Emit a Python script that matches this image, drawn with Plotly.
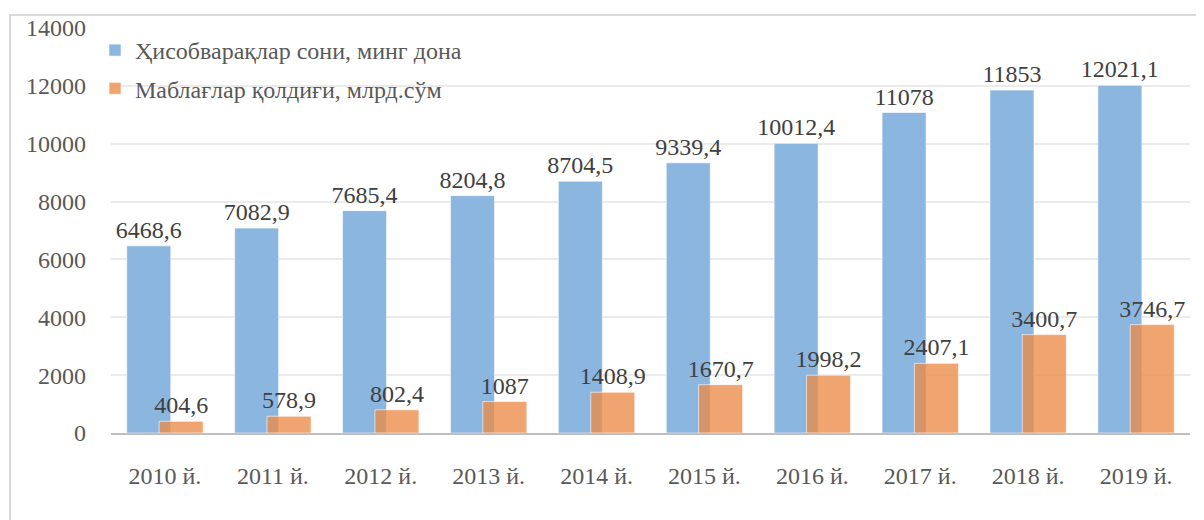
import plotly.graph_objects as go

categories = ["2010 й.", "2011 й.", "2012 й.", "2013 й.", "2014 й.",
              "2015 й.", "2016 й.", "2017 й.", "2018 й.", "2019 й."]
accounts = [6468.6, 7082.9, 7685.4, 8204.8, 8704.5, 9339.4, 10012.4, 11078, 11853, 12021.1]
balances = [404.6, 578.9, 802.4, 1087, 1408.9, 1670.7, 1998.2, 2407.1, 3400.7, 3746.7]
series_names = ["Ҳисобварақлар сони, минг дона", "Маблағлар қолдиғи, млрд.сўм"]
y_ticks = [0, 2000, 4000, 6000, 8000, 10000, 12000, 14000]


def fmt(v):
    return f"{v:g}".replace(".", ",")


FONT = "Liberation Serif"
W = 0.408
FS = 24

fig = go.Figure()
fig.add_trace(go.Bar(
    x=categories, y=accounts, name=series_names[0], legendgroup="a",
    marker=dict(color="#8AB6E0", line=dict(color="rgba(255,255,255,0.6)", width=1)),
    width=W, offset=-0.15 - W / 2,
    text=[fmt(v) for v in accounts], textposition="outside", constraintext="none",
    textfont=dict(family=FONT, size=FS, color="#404040"),
    cliponaxis=False,
))
fig.add_trace(go.Bar(
    x=categories, y=balances, name=series_names[1], legendgroup="b",
    marker=dict(color="rgba(236,140,72,0.78)", line=dict(color="rgba(255,255,255,0.6)", width=1)),
    width=W, offset=0.15 - W / 2,
    text=[fmt(v) for v in balances], textposition="outside", constraintext="none",
    textfont=dict(family=FONT, size=FS, color="#404040"),
    cliponaxis=False,
))

OFF = 8  # page body offset
FW, FH = 1204 - OFF, 520 - OFF
L, R, T, B = 111 - OFF, 14, 28 - OFF, 87
PW = FW - L - R
PH = FH - T - B

fig.update_layout(
    width=FW, height=FH,
    margin=dict(l=L, r=R, t=T, b=B, autoexpand=False),
    barmode="overlay",
    plot_bgcolor="white", paper_bgcolor="white",
    font=dict(family=FONT, size=FS, color="#595959"),
    showlegend=True,
    legend=dict(x=(95 - 111) / PW, y=1, xanchor="left", yanchor="top",
                traceorder="grouped", tracegroupgap=4,
                bgcolor="rgba(0,0,0,0)", font=dict(family=FONT, size=FS, color="#595959")),
    xaxis=dict(showgrid=False, showline=True, linecolor="#BFBFBF", linewidth=2, automargin=False,
               ticks="", ticklabelstandoff=20, tickfont=dict(family=FONT, size=FS, color="#595959")),
    yaxis=dict(range=[0, 14000], tickvals=y_ticks, ticktext=[str(v) for v in y_ticks],
               showgrid=True, gridcolor="#EBEBEB", automargin=False,
               gridwidth=1.5, zeroline=False, showline=False, ticks="",
               ticklabelstandoff=24, tickfont=dict(family=FONT, size=FS, color="#595959")),
    shapes=[dict(type="rect", xref="paper", yref="paper",
                 x0=(10 - 111) / PW, x1=(1215 - 111) / PW,
                 y0=-(B + 30) / PH, y1=1 + (28 - 15) / PH,
                 line=dict(color="#D9D9D9", width=2), layer="below")],
)

fig.write_html("out.html")
